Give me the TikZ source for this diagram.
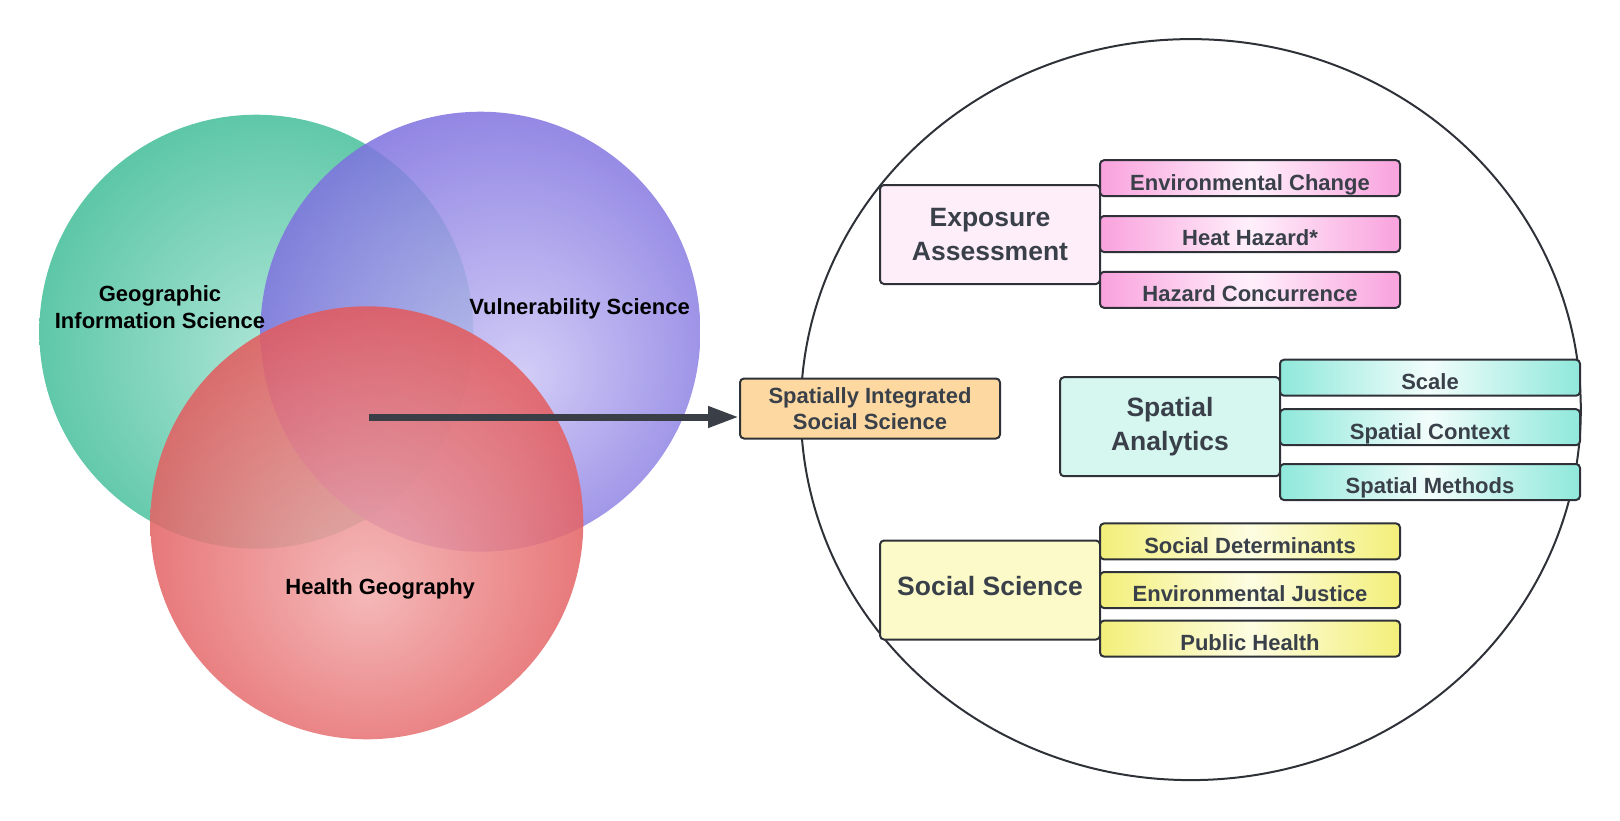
\documentclass[tikz,border=0pt]{standalone}
\usepackage{fontspec}
\setmainfont{Liberation Sans}
\usetikzlibrary{arrows.meta,shapes.geometric}

\definecolor{gin}{HTML}{B4E8DA}
\definecolor{gout}{HTML}{48BF9A}
\definecolor{pin}{HTML}{CBC4F5}
\definecolor{pout}{HTML}{6E60DA}
\definecolor{rin}{HTML}{F3AEAE}
\definecolor{rout}{HTML}{DF4A4D}
\definecolor{txtc}{HTML}{3A4049}
\definecolor{bordc}{HTML}{2E3238}
\definecolor{arrowc}{HTML}{3A3F47}
\definecolor{sissfill}{HTML}{FDD9A1}
\definecolor{expfill}{HTML}{FDEEFA}
\definecolor{spafill}{HTML}{D6F6F0}
\definecolor{socfill}{HTML}{FBFAC8}
\definecolor{pinkE}{HTML}{F9A2DD}
\definecolor{pinkC}{HTML}{FFF0FB}
\definecolor{tealE}{HTML}{8FE8DB}
\definecolor{tealC}{HTML}{F2FDFB}
\definecolor{yelE}{HTML}{F3EF7A}
\definecolor{yelC}{HTML}{FDFDE2}

\pgfdeclareradialshading{gshade}{\pgfpoint{4bp}{-4bp}}{color(0bp)=(gin); color(34bp)=(gout); color(50bp)=(gout)}
\pgfdeclareradialshading{pshade}{\pgfpoint{5bp}{-5bp}}{color(0bp)=(pin); color(34bp)=(pout); color(50bp)=(pout)}
\pgfdeclareradialshading{rshade}{\pgfpoint{0bp}{-8bp}}{color(0bp)=(rin); color(34bp)=(rout); color(50bp)=(rout)}

\tikzset{
  venncircle/.style={circle, inner sep=0pt, outer sep=0pt},
  vennlabel/.style={text=black, font=\bfseries\fontsize{22}{27}\selectfont, align=center, inner sep=0pt},
  box/.style={draw=bordc, line width=2pt, rounded corners=4pt, inner sep=0pt, text=txtc},
  subbox/.style={box, minimum width=300pt, minimum height=36pt,
    font=\bfseries\fontsize{22}{26}\selectfont, text height=23.8pt, text depth=0pt},
  pinkbox/.style={subbox, left color=pinkE, right color=pinkE, middle color=pinkC},
  tealbox/.style={subbox, left color=tealE, right color=tealE, middle color=tealC},
  yelbox/.style={subbox, left color=yelE, right color=yelE, middle color=yelC},
  titlebox/.style={box, minimum width=220pt, minimum height=99pt,
    font=\bfseries\fontsize{26.5}{33.5}\selectfont, align=center},
}

\begin{document}
\begin{tikzpicture}[x=1pt,y=-1pt]
\useasboundingbox (0,0) rectangle (1620,820);

% Venn diagram
\node[venncircle, minimum size=434pt, shading=gshade] (gis) at (256.3,331.7) {};
\node[venncircle, minimum size=440pt, shading=pshade, opacity=0.86] (vul) at (480.4,331.7) {};
\node[venncircle, minimum size=433pt, shading=rshade, opacity=0.87] (hg) at (366.8,522.8) {};

\node[vennlabel] (gislab) at (160,306.9) {Geographic\\Information Science};
\node[vennlabel, text height=15.8pt, text depth=0pt] (vullab) at (579.6,306.9) {Vulnerability Science};
\node[vennlabel, text height=15.8pt, text depth=0pt] (hglab) at (380.2,586.5) {Health Geography};

% big ellipse
\node[ellipse, draw=bordc, line width=2pt, minimum width=780pt, minimum height=741pt, inner sep=0pt] (world) at (1190.8,409.6) {};

% spatially integrated social science
\node[box, fill=sissfill, minimum width=260pt, minimum height=60pt,
  font=\bfseries\fontsize{22}{26.5}\selectfont, align=center] (siss) at (870,408.5)
  {Spatially Integrated\\Social Science};

\coordinate (src) at (369,417);
\draw[arrowc, line width=7pt, -{Triangle[length=31pt,width=20pt]}] (src) -- (src -| siss.west);

% Exposure assessment
\node[titlebox, fill=expfill] (exp) at (990,234.5) {Exposure\\Assessment};
\node[pinkbox] (envch) at (1250,178.2) {Environmental Change};
\node[pinkbox] (heat) at (1250,234) {Heat Hazard*};
\node[pinkbox] (conc) at (1250,289.8) {Hazard Concurrence};

% Spatial analytics
\node[titlebox, fill=spafill] (spa) at (1170,426.7) {Spatial\\Analytics};
\node[tealbox] (scale) at (1430,377.7) {Scale};
\node[tealbox] (ctx) at (1430,427.2) {Spatial Context};
\node[tealbox] (meth) at (1430,482) {Spatial Methods};

% Social science
\node[titlebox, fill=socfill, text height=10pt, text depth=0pt] (soc) at (990,590) {Social Science};
\node[yelbox] (sdet) at (1250,541.4) {Social Determinants};
\node[yelbox] (ej) at (1250,590) {Environmental Justice};
\node[yelbox] (ph) at (1250,638.6) {Public Health};
\end{tikzpicture}
\end{document}
